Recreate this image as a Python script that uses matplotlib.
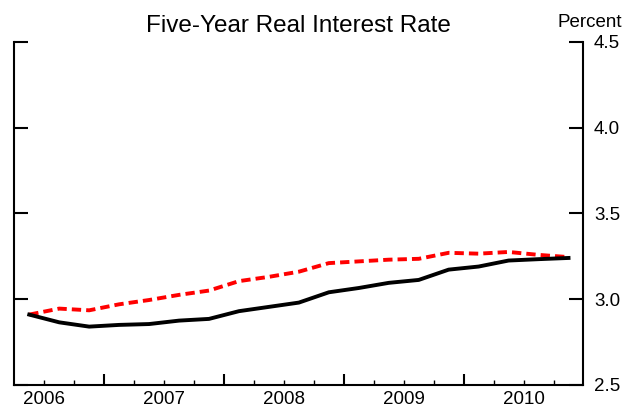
import matplotlib
matplotlib.use("Agg")
import matplotlib.pyplot as plt
from matplotlib.ticker import FixedLocator, FuncFormatter

plt.rcParams["font.family"] = ["Liberation Sans", "DejaVu Sans"]

# quarterly data, 2006Q2 .. 2010Q4
quarters = ["2006Q2", "2006Q3", "2006Q4",
            "2007Q1", "2007Q2", "2007Q3", "2007Q4",
            "2008Q1", "2008Q2", "2008Q3", "2008Q4",
            "2009Q1", "2009Q2", "2009Q3", "2009Q4",
            "2010Q1", "2010Q2", "2010Q3", "2010Q4"]
actual = [2.91, 2.865, 2.84, 2.85, 2.855, 2.875, 2.885, 2.93, 2.955, 2.98,
          3.04, 3.065, 3.095, 3.112, 3.172, 3.19, 3.225, 3.233, 3.24]
previous = [2.91, 2.945, 2.935, 2.97, 2.995, 3.025, 3.05, 3.105, 3.13, 3.16,
            3.21, 3.22, 3.23, 3.235, 3.27, 3.265, 3.275, 3.258, 3.245]
year_labels = ["2006", "2007", "2008", "2009", "2010"]
y_ticks = [2.5, 3.0, 3.5, 4.0, 4.5]


def quarter_mid(q):
    # centre of the quarter in decimal years
    return int(q[:4]) + (int(q[-1]) - 0.5) / 4


x = [quarter_mid(q) for q in quarters]

fig = plt.figure(figsize=(6.4, 4.11), dpi=100)
ax = fig.add_axes([0.0223, 0.0633, 0.8894, 0.8353])

red_line, = ax.plot(x, previous, color="#ff0000", lw=2.8, zorder=2,
                    solid_capstyle="butt")
red_line.set_dashes([2.4, 1.3])
ax.plot(x, actual, color="black", lw=2.8, zorder=3)

ax.set_xlim(2006.25, 2011.0)
ax.set_ylim(2.5, 4.5)

for side in ["left", "right", "bottom"]:
    ax.spines[side].set_linewidth(1.5)
ax.spines["top"].set_visible(False)

# x axis: year boundaries long, quarters short, labels at mid-year
years = [int(y) for y in year_labels]
ax.xaxis.set_major_locator(FixedLocator([y + 1 for y in years[:-1]]))
ax.xaxis.set_major_formatter(FuncFormatter(lambda v, p: ""))
quarter_ticks = [y + k / 4 for y in years for k in (1, 2, 3)]
quarter_ticks = sorted(t for t in quarter_ticks if t > 2006.25)
ax.xaxis.set_minor_locator(FixedLocator(quarter_ticks))
ax.xaxis.set_minor_formatter(FuncFormatter(
    lambda v, p: str(int(v)) if abs(v - int(v) - 0.5) < 1e-6 else ""))
ax.tick_params(axis="x", which="major", direction="in", length=8, width=1.5,
               labelsize=13.5, pad=4)
ax.tick_params(axis="x", which="minor", direction="in", length=3.5, width=1,
               labelsize=13.5, pad=4)

# y axis: ticks both sides, labels on the right
ax.set_yticks(y_ticks)
ax.set_yticklabels([f"{v:.1f}" for v in y_ticks])
ax.yaxis.set_minor_locator(FixedLocator([4.5]))
ax.tick_params(axis="y", which="major", direction="in", length=10, width=1.5,
               left=True, right=True, labelleft=False, labelright=True,
               labelsize=13.5, pad=7.5)
ax.tick_params(axis="y", which="minor", direction="in", length=18, width=1.5,
               left=True, right=True, labelleft=False, labelright=False)

ax.set_title("Five-Year Real Interest Rate", fontsize=17.5, pad=7.2)
ax.text(1.0105, 1.0437, "Percent", transform=ax.transAxes, fontsize=13.5,
        ha="center", va="baseline")

fig.savefig("out.png", dpi=100)
